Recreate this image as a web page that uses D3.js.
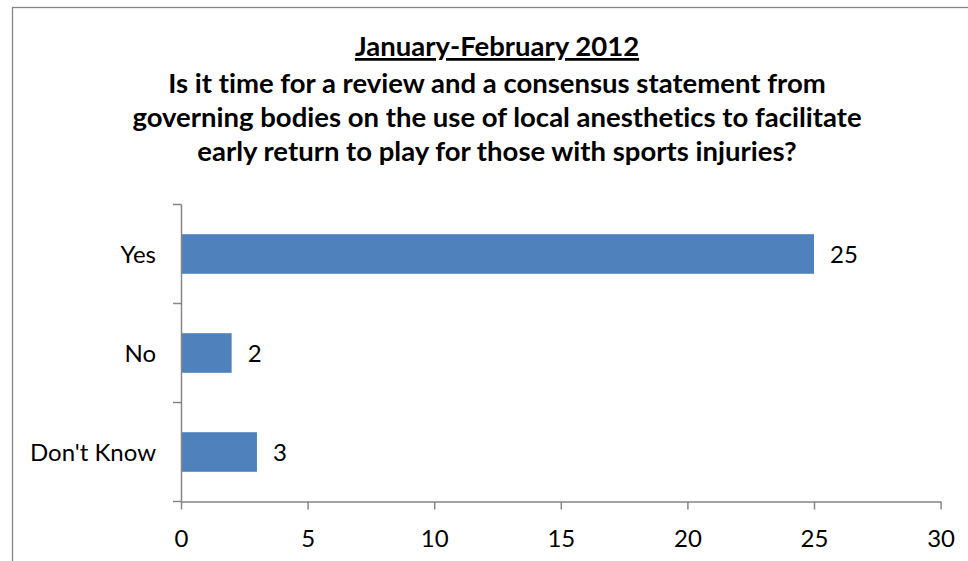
<!DOCTYPE html>
<html>
<head>
<meta charset="utf-8">
<script src="https://cdn.jsdelivr.net/npm/d3@7"></script>
<style>
  html, body { margin: 0; padding: 0; background: #fff; }
  svg { display: block; }
  text { font-family: Lato, "Open Sans", sans-serif; fill: #000; font-variant-ligatures: none; }
</style>
</head>
<body>
<svg id="chart" width="968" height="561"></svg>
<script>
// ---- data ----
const categories = ["Yes", "No", "Don't Know"];
const values = [25, 2, 3];
const xTicks = [0, 5, 10, 15, 20, 25, 30];
const titleLines = [
  "January-February 2012",
  "Is it time for a review and a consensus statement from",
  "governing bodies on the use of local anesthetics to facilitate",
  "early return to play for those with sports injuries?"
];

const svg = d3.select("#chart");
const axisColor = "#868686";
const barColor = "#4F81BD";

// chart frame (extends past the right and bottom edges)
svg.append("rect")
  .attr("x", 12.5).attr("y", 7.5)
  .attr("width", 1000).attr("height", 600)
  .attr("fill", "#fff").attr("stroke", axisColor).attr("stroke-width", 1.3);

// title
const titleX = 497;
const titleBaselines = [56, 93, 127, 161];
svg.append("g").selectAll("text")
  .data(titleLines)
  .join("text")
  .attr("x", titleX)
  .attr("y", (d, i) => titleBaselines[i])
  .attr("text-anchor", "middle")
  .attr("font-weight", "bold")
  .attr("font-size", 27.5)
  .style("text-decoration", (d, i) => i === 0 ? "underline" : null)
  .text(d => d);

// scales
const plot = { left: 181, right: 940.6, top: 204.5, bottom: 501.5 };
const x = d3.scaleLinear().domain([0, 30]).range([plot.left, plot.right]);
const y = d3.scaleBand().domain(categories)
  .range([plot.top, plot.bottom])
  .paddingInner(0.6).paddingOuter(0.3);
const yEdges = d3.scaleBand().domain(categories).range([plot.top, plot.bottom]);

// bars
svg.append("g").selectAll("rect")
  .data(categories)
  .join("rect")
  .attr("x", x(0))
  .attr("y", d => y(d))
  .attr("width", (d, i) => x(values[i]) - x(0))
  .attr("height", y.bandwidth())
  .attr("fill", barColor);

// value labels
svg.append("g").selectAll("text")
  .data(categories)
  .join("text")
  .attr("x", (d, i) => x(values[i]) + 16)
  .attr("y", d => y(d) + y.bandwidth() / 2 + 8.5)
  .attr("font-size", 24)
  .text((d, i) => values[i]);

// y axis: line + boundary ticks
const yAxisG = svg.append("g");
yAxisG.append("line")
  .attr("x1", x(0) + 0.5).attr("x2", x(0) + 0.5)
  .attr("y1", plot.top).attr("y2", plot.bottom)
  .attr("stroke", axisColor).attr("stroke-width", 1.5);
const edges = categories.map(c => yEdges(c)).concat([plot.bottom]);
yAxisG.selectAll("line.tick")
  .data(edges)
  .join("line")
  .attr("class", "tick")
  .attr("x1", x(0) - 8).attr("x2", x(0) + 0.5)
  .attr("y1", d => d).attr("y2", d => d)
  .attr("stroke", axisColor).attr("stroke-width", 1.5);
yAxisG.selectAll("text")
  .data(categories)
  .join("text")
  .attr("x", 156)
  .attr("y", d => yEdges(d) + yEdges.bandwidth() / 2 + 8.5)
  .attr("text-anchor", "end")
  .attr("font-size", 24)
  .text(d => d);

// x axis
const xAxis = d3.axisBottom(x).tickValues(xTicks).tickSize(8).tickSizeOuter(0).tickFormat(d3.format("d"));
const xAxisG = svg.append("g")
  .attr("transform", `translate(0,${plot.bottom})`)
  .call(xAxis);
xAxisG.select(".domain").attr("stroke", axisColor).attr("stroke-width", 1.5);
xAxisG.selectAll(".tick line").attr("stroke", axisColor).attr("stroke-width", 1.5);
xAxisG.selectAll(".tick text")
  .attr("y", 45.5).attr("dy", 0)
  .attr("font-size", 24)
  .attr("font-family", "Lato, 'Open Sans', sans-serif")
  .attr("fill", "#000");
</script>
</body>
</html>
